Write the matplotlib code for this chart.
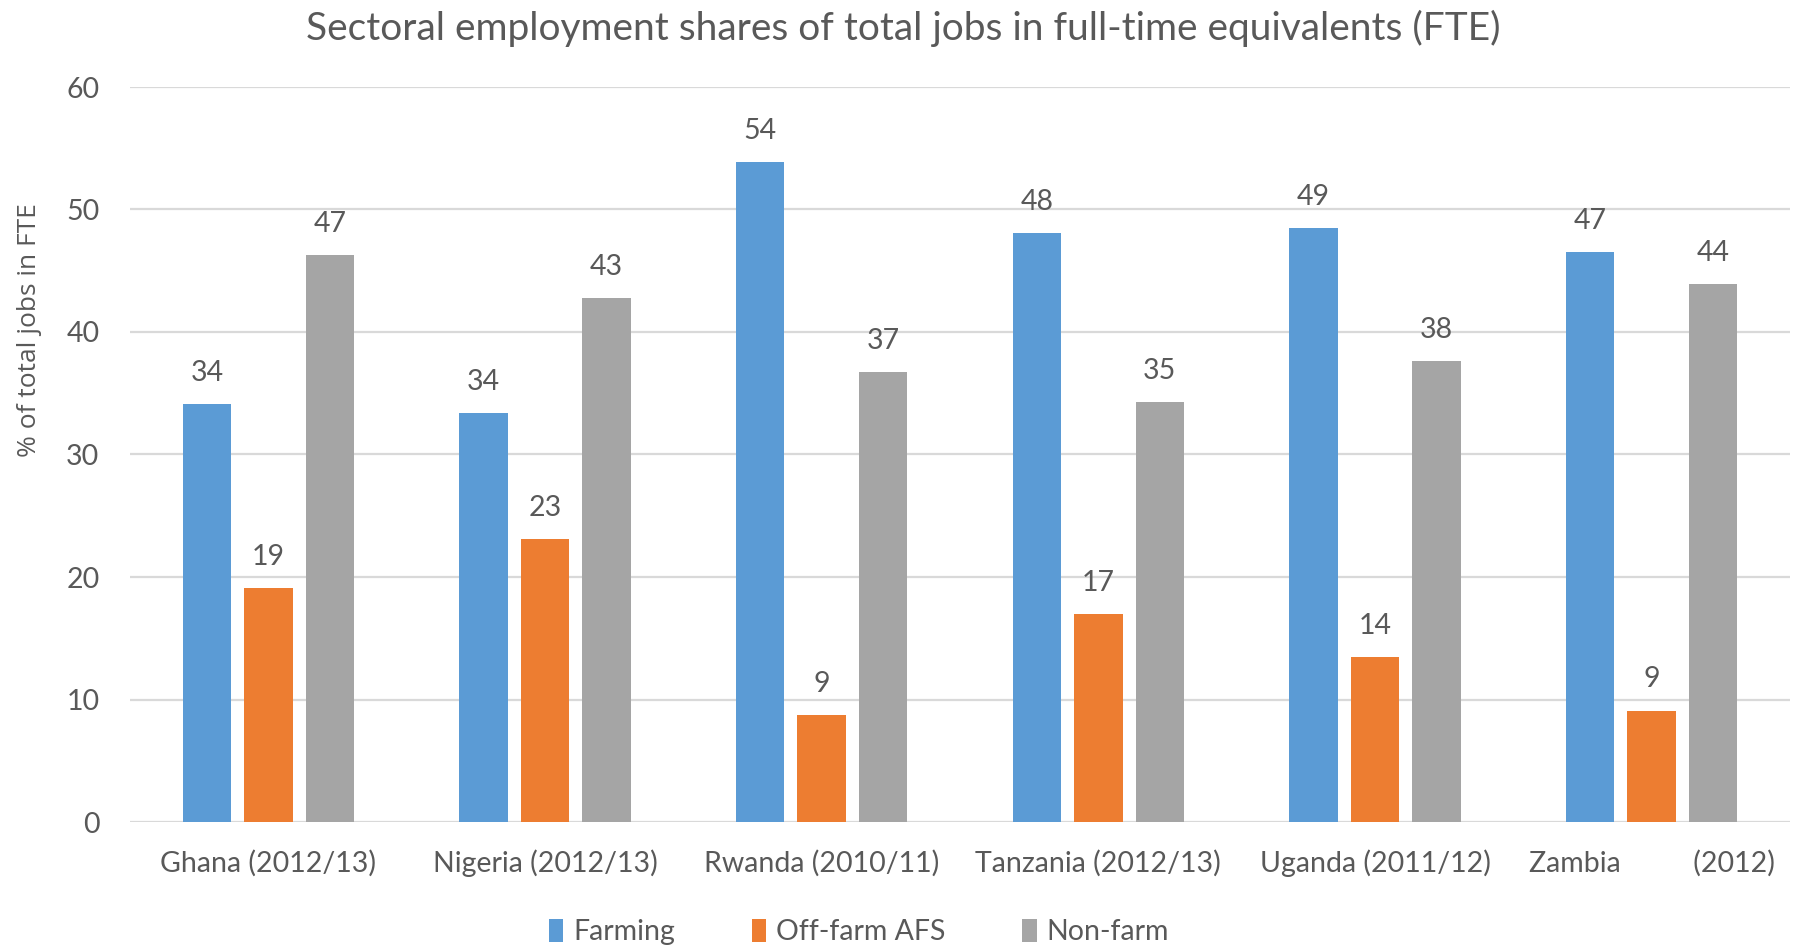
import matplotlib
matplotlib.use("Agg")
import matplotlib.pyplot as plt
import numpy as np

countries = ["Ghana (2012/13)", "Nigeria (2012/13)", "Rwanda (2010/11)",
             "Tanzania (2012/13)", "Uganda (2011/12)", "Zambia          (2012)"]
farming = [34.1, 33.4, 53.9, 48.1, 48.5, 46.5]
off_farm = [19.1, 23.1, 8.7, 17.0, 13.5, 9.1]
non_farm = [46.3, 42.8, 36.7, 34.3, 37.6, 43.9]
farming_lbl = ["34", "34", "54", "48", "49", "47"]
off_farm_lbl = ["19", "23", "9", "17", "14", "9"]
non_farm_lbl = ["47", "43", "37", "35", "38", "44"]

TXT = "#595959"
FONT = "Lato"
FS = 20.5

fig = plt.figure(figsize=(18.01, 9.47), dpi=100)
ax = fig.add_axes([130 / 1801, 1 - 822 / 947, 1660 / 1801, 735 / 947])

x = np.arange(len(countries))
w = 0.175
step = 0.222
series = [
    ("Farming", farming, farming_lbl, "#5B9BD5"),
    ("Off-farm AFS", off_farm, off_farm_lbl, "#ED7D31"),
    ("Non-farm", non_farm, non_farm_lbl, "#A5A5A5"),
]
for i, (name, vals, lbls, col) in enumerate(series):
    pos = x + (i - 1) * step
    ax.bar(pos, vals, width=w, color=col, label=name, zorder=3)
    for px, v, t in zip(pos, vals, lbls):
        ax.annotate(t, (px, v), xytext=(0, 13), textcoords="offset points",
                    ha="center", va="bottom", fontsize=FS, color=TXT,
                    family=FONT)

ax.set_xlim(-0.5, 5.5)
ax.set_ylim(0, 60)
ax.set_yticks(range(0, 61, 10))
ax.yaxis.grid(True, color="#D9D9D9", lw=1.6, zorder=0)
ax.set_axisbelow(True)
for s in ax.spines.values():
    s.set_visible(False)
ax.tick_params(length=0)
ax.tick_params(axis="y", pad=22)
ax.tick_params(axis="x", pad=20)
ax.set_xticks(x)
ax.set_xticklabels(countries)
for lab in ax.get_xticklabels() + ax.get_yticklabels():
    lab.set_fontsize(FS)
    lab.set_color(TXT)
    lab.set_family(FONT)

fig.text(29 / 1801, 1 - 330 / 947, "% of total jobs in FTE", rotation=90,
         ha="center", va="center", fontsize=19, color=TXT, family="Open Sans")
fig.text(903 / 1801, 1 - 28 / 947,
         "Sectoral employment shares of total jobs in full-time equivalents (FTE)",
         ha="center", va="center", fontsize=28, color=TXT, family=FONT)

leg = fig.legend(loc="center", bbox_to_anchor=(859 / 1801, 1 - 932 / 947),
                 ncol=3, frameon=False, handlelength=0.5, handleheight=0.9,
                 handletextpad=0.35, columnspacing=2.7,
                 prop={"family": FONT, "size": FS})
for t in leg.get_texts():
    t.set_color(TXT)

fig.savefig("out.png", dpi=100)
